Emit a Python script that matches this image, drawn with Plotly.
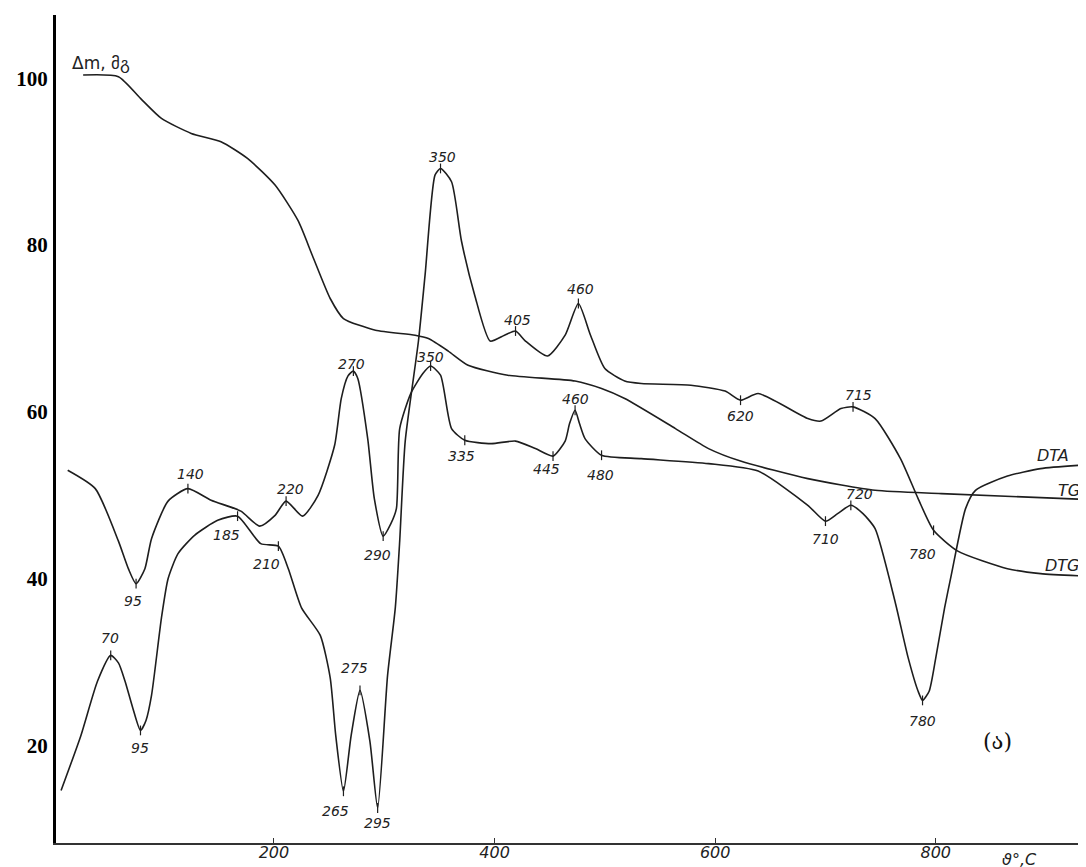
import plotly.graph_objects as go

# ---- TG curve (mass, %) ----
tg_t = [27, 59, 79, 98, 125, 152, 176, 201, 222, 235, 251, 263, 292, 328, 340, 358, 376,
        412, 473, 497, 518, 564, 594, 623, 684, 745, 805, 936]
tg_v = [100.4, 100.2, 97.6, 95.2, 93.4, 92.4, 90.4, 87.2, 82.9, 78.7, 73.6, 71.2, 69.8, 69.2, 68.8, 67.3, 65.6,
        64.4, 63.7, 62.8, 61.6, 58.0, 55.6, 54.1, 52.0, 50.6, 50.2, 49.5]

# ---- DTA curve ----
dta_t = [13, 38, 59, 68, 75, 83, 89, 104, 122, 143, 170, 187, 201, 211, 226, 240, 255, 261, 267, 272,
         276, 285, 291, 299, 306, 311, 314, 324, 335, 342, 351, 361, 373, 397, 419, 437, 453, 464,
         468, 473, 477, 482, 497, 533, 594, 639, 684, 700, 711, 723, 734, 745, 763, 775, 784, 788,
         794, 800, 808, 814, 827, 836, 865, 895, 931]
dta_v = [53.0, 50.8, 44.5, 41.2, 39.4, 41.2, 44.8, 49.3, 50.8, 49.4, 48.1, 46.3, 47.6, 49.3, 47.5, 50.0, 56.0, 61.6, 64.3, 64.9,
         64.0, 56.8, 49.6, 45.1, 46.6, 48.4, 58.0, 62.2, 64.6, 65.5, 64.4, 58.0, 56.6, 56.2, 56.5, 55.6, 54.7, 56.5,
         58.6, 60.2, 58.6, 56.8, 54.8, 54.4, 53.8, 52.9, 48.8, 46.9, 47.8, 48.8, 47.8, 46.0, 37.3, 30.5, 26.5, 25.4,
         26.5, 30.5, 36.5, 40.4, 48.4, 50.6, 52.3, 53.2, 53.6]

# ---- DTG curve ----
dtg_t = [7, 25, 40, 52, 59, 65, 72, 79, 84, 89, 98, 104, 113, 128, 149, 167, 188, 204, 213, 225, 242,
         251, 256, 263, 270, 278, 287, 294, 303, 310, 314, 319, 331, 337, 346, 351, 361, 370, 382, 396,
         409, 419, 428, 448, 464, 476, 487, 500, 518, 533, 578, 609, 623, 639, 684, 696, 714, 725, 745,
         768, 784, 798, 820, 865, 895, 936]
dtg_v = [14.6, 21.2, 27.7, 30.8, 29.9, 27.7, 24.5, 21.8, 23.0, 26.0, 35.3, 40.0, 43.0, 45.2, 47.0, 47.5, 44.2, 43.9, 41.2, 36.5, 33.2,
         28.1, 21.2, 14.5, 21.2, 26.6, 20.5, 12.5, 28.4, 36.5, 44.5, 56.5, 68.5, 76.4, 88.4, 89.2, 87.6, 80.5, 74.0, 68.5,
         69.2, 69.7, 68.5, 66.7, 69.2, 73.0, 69.2, 65.2, 63.7, 63.4, 63.2, 62.5, 61.4, 62.2, 59.2, 58.9, 60.4, 60.6, 59.2,
         54.4, 49.6, 45.8, 43.3, 41.2, 40.6, 40.3]

# ---- peak labels ----
dta_lbl = ["95", "140", "220", "270", "290", "350", "335", "445", "460", "480", "710", "720", "780"]
dta_lbl_t = [72, 124, 215, 270, 294, 342, 370, 447, 473, 496, 700, 731, 788]
dta_lbl_v = [37.3, 52.6, 50.8, 65.8, 42.8, 66.6, 54.7, 53.2, 61.6, 52.4, 44.8, 50.1, 22.9]
dta_mark_idx = [4, 8, 13, 19, 23, 29, 32, 36, 39, 42, 47, 49, 55]

dtg_lbl = ["70", "95", "185", "210", "265", "275", "295", "350", "405", "460", "620", "715", "780"]
dtg_lbl_t = [51, 79, 157, 193, 256, 273, 294, 353, 421, 478, 623, 730, 788]
dtg_lbl_v = [32.9, 19.7, 45.2, 41.8, 12.1, 29.3, 10.7, 90.6, 71.0, 74.8, 59.5, 62.0, 43.0]
dtg_mark_idx = [3, 7, 15, 17, 23, 25, 27, 35, 41, 45, 52, 57, 61]

curve_names = ["DTA", "TG", "DTG"]
curve_name_v = [54.8, 50.6, 41.6]

x_ticks = [200, 400, 600, 800]
y_ticks = [100, 80, 60, 40, 20]

line_style = dict(color="#1e1e1e", width=1.6, shape="spline", smoothing=0.6)

fig = go.Figure()
for t, v in [(tg_t, tg_v), (dta_t, dta_v), (dtg_t, dtg_v)]:
    fig.add_trace(go.Scatter(x=t, y=v, mode="lines", line=line_style,
                             hoverinfo="skip", showlegend=False))

# small tick marks at the labelled points
for t, v, idx in [(dta_t, dta_v, dta_mark_idx), (dtg_t, dtg_v, dtg_mark_idx)]:
    fig.add_trace(go.Scatter(x=[t[i] for i in idx], y=[v[i] for i in idx], mode="markers",
                             marker=dict(symbol="line-ns", size=7, line=dict(color="#1e1e1e", width=1.2)),
                             hoverinfo="skip", showlegend=False))

hand = dict(family="DejaVu Sans", size=14, color="#222", style="italic")
ann = []
for txt, t, v in zip(dta_lbl + dtg_lbl, dta_lbl_t + dtg_lbl_t, dta_lbl_v + dtg_lbl_v):
    ann.append(dict(x=t, y=v, text=txt, showarrow=False, font=hand,
                    xanchor="center", yanchor="middle"))
# curve names at the right-hand ends
for txt, px, v in zip(curve_names, [0.985, 0.996, 0.996], curve_name_v):
    ann.append(dict(x=px, xref="paper", y=v, yref="y", text=txt, showarrow=False,
                    font=dict(family="DejaVu Sans", size=16, color="#222", style="italic"),
                    xanchor="right", yanchor="middle"))
ann.append(dict(x=15, y=101.8, text="Δm, მგ", showarrow=False, xanchor="left", yanchor="middle",
                font=dict(family="DejaVu Sans", size=17, color="#222")))
ann.append(dict(x=856, y=20.5, text="(ა)", showarrow=False, xanchor="center", yanchor="middle",
                font=dict(family="DejaVu Serif", size=22, color="#111")))
ann.append(dict(x=876, xref="x", y=-0.02, yref="paper", text="ϑ°,C", showarrow=False,
                xanchor="center", yanchor="middle",
                font=dict(family="DejaVu Sans", size=16, color="#222", style="italic")))

fig.update_layout(
    width=1086, height=867,
    margin=dict(l=48, r=8, t=7, b=32),
    paper_bgcolor="white", plot_bgcolor="white",
    annotations=ann,
    xaxis=dict(range=[2.4, 936.2], tickvals=x_ticks, ticktext=[str(v) for v in x_ticks],
               showgrid=False, zeroline=False, showline=True, linecolor="#333", linewidth=1.5,
               ticks="inside", ticklen=5, tickcolor="#333", ticklabelstandoff=-6,
               tickfont=dict(family="DejaVu Sans", size=16, color="#222", style="italic")),
    yaxis=dict(range=[8.3, 107.6], tickvals=y_ticks, ticktext=[str(v) for v in y_ticks],
               showgrid=False, zeroline=False, showline=True, linecolor="black", linewidth=3,
               ticks="", ticklabelstandoff=1,
               tickfont=dict(family="Liberation Serif", size=21, color="black", weight="bold")),
)

fig.write_html("out.html")
